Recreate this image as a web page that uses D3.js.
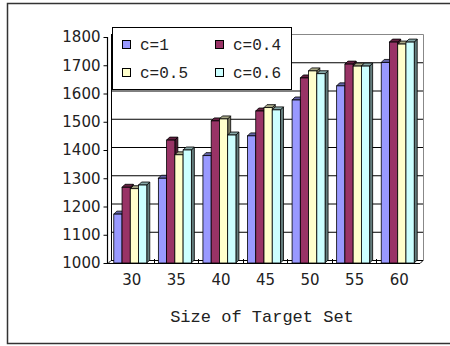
<!DOCTYPE html>
<html>
<head>
<meta charset="utf-8">
<script src="https://cdn.jsdelivr.net/npm/d3@7/dist/d3.min.js"></script>
<style>
  html, body { margin: 0; padding: 0; background: #fff; }
  svg { display: block; }
</style>
</head>
<body>
<svg id="chart" width="450" height="346"></svg>
<script>
// Target set sizes on the x axis
const categories = ["30", "35", "40", "45", "50", "55", "60"];
// Parameter settings, one series each
const seriesNames = ["c=1", "c=0.4", "c=0.5", "c=0.6"];
const seriesColors = ["#9999FF", "#993366", "#FFFFCC", "#CCFFFF"];
// Values per series, one per target set size
const valsC1  = [1173, 1300, 1380, 1450, 1577, 1627, 1710];
const valsC04 = [1268, 1435, 1503, 1538, 1655, 1704, 1782];
const valsC05 = [1263, 1383, 1510, 1550, 1680, 1697, 1775];
const valsC06 = [1276, 1400, 1453, 1542, 1670, 1697, 1782];
const seriesValues = [valsC1, valsC04, valsC05, valsC06];
const yTicks = [1000, 1100, 1200, 1300, 1400, 1500, 1600, 1700, 1800];
const xTitle = "Size of Target Set";

(function () {
const svg = d3.select("#chart");

// chart area frame
svg.append("rect")
  .attr("x", 7.5).attr("y", 3.5).attr("width", 460).attr("height", 340)
  .attr("fill", "#fff").attr("stroke", "#333").attr("stroke-width", 1.5);

const pLeft = 108, pRight = 420, pBottom = 263, pTop = 37, depth = 3;

const y = d3.scaleLinear().domain([1000, 1800]).range([pBottom, pTop]);
const x = d3.scaleBand().domain(categories).range([pLeft, pRight])
  .paddingInner(0.26).paddingOuter(0.13);
const xs = d3.scaleBand().domain(d3.range(seriesNames.length)).range([0, x.bandwidth()]);

// back wall gridlines
const g = svg.append("g");
g.selectAll("line.grid").data(yTicks.slice(1, -1)).join("line")
  .attr("x1", pLeft + depth).attr("x2", pRight + depth)
  .attr("y1", d => y(d) - depth + 0.5).attr("y2", d => y(d) - depth + 0.5)
  .attr("stroke", "#000").attr("stroke-width", 1);

// wall border (top and right), grey
g.append("path")
  .attr("d", `M${pLeft + depth + 0.5},${y(1800) - depth + 0.5} H${pRight + depth + 0.5} V${pBottom - depth + 0.5}`)
  .attr("fill", "none").attr("stroke", "#888").attr("stroke-width", 1);

// floor
g.append("path")
  .attr("d", `M${pLeft},${pBottom + 0.5} L${pLeft + depth},${pBottom - depth + 0.5} H${pRight + depth} L${pRight},${pBottom + 0.5} Z`)
  .attr("fill", "#fff").attr("stroke", "#000").attr("stroke-width", 1);

// left wall edge
g.append("line")
  .attr("x1", pLeft + depth + 0.5).attr("x2", pLeft + depth + 0.5)
  .attr("y1", y(1800) - depth).attr("y2", pBottom - depth)
  .attr("stroke", "#000").attr("stroke-width", 1);

// category ticks at group boundaries
const bounds = d3.range(1, categories.length).map(i => pLeft + i * x.step());
g.selectAll("line.ct").data(bounds).join("line")
  .attr("x1", d => Math.round(d) + 1.5).attr("x2", d => Math.round(d) + 1.5)
  .attr("y1", pBottom - 4).attr("y2", pBottom)
  .attr("stroke", "#000").attr("stroke-width", 1);

// bars with a shallow 3-D side and top
const bars = svg.append("g");
categories.forEach((cat, ci) => {
  seriesValues.forEach((vals, si) => {
    const v = vals[ci];
    const x0 = x(cat) + xs(si), w = xs.bandwidth();
    const yv = y(v), y0 = y(1000);
    const base = d3.color(seriesColors[si]);
    bars.append("path")
      .attr("d", `M${x0 + w},${yv} L${x0 + w + depth},${yv - depth} L${x0 + w + depth},${y0 - depth} L${x0 + w},${y0} Z`)
      .attr("fill", base.darker(2).formatHex()).attr("stroke", "#000").attr("stroke-width", 0.8);
    bars.append("path")
      .attr("d", `M${x0},${yv} L${x0 + depth},${yv - depth} L${x0 + w + depth},${yv - depth} L${x0 + w},${yv} Z`)
      .attr("fill", base.darker(1.2).formatHex()).attr("stroke", "#000").attr("stroke-width", 0.8);
    bars.append("rect")
      .attr("x", x0).attr("y", yv).attr("width", w).attr("height", y0 - yv)
      .attr("fill", seriesColors[si]).attr("stroke", "#000").attr("stroke-width", 0.8);
  });
});

// front axes
svg.append("line")
  .attr("x1", pLeft - 0.5).attr("x2", pLeft - 0.5).attr("y1", pTop).attr("y2", pBottom + 1)
  .attr("stroke", "#000").attr("stroke-width", 1.2);
svg.append("line")
  .attr("x1", pLeft - 0.5).attr("x2", pRight).attr("y1", pBottom + 0.5).attr("y2", pBottom + 0.5)
  .attr("stroke", "#000").attr("stroke-width", 1.2);

// y axis ticks and labels
const yAxis = d3.axisLeft(y).tickValues(yTicks).tickFormat(d3.format("d")).tickSize(4).tickPadding(3);
const ya = svg.append("g").attr("transform", `translate(${pLeft - 0.5},0)`).call(yAxis);
ya.select(".domain").remove();
ya.selectAll("text").attr("font-family", "DejaVu Sans").attr("font-size", 15).attr("fill", "#222");

// x axis labels
const xAxis = d3.axisBottom(x).tickSize(0).tickPadding(11);
const xa = svg.append("g").attr("transform", `translate(1.5,${pBottom})`).call(xAxis);
xa.select(".domain").remove();
xa.selectAll("text").attr("font-family", "DejaVu Sans").attr("font-size", 15).attr("fill", "#222");

// axis title
svg.append("text")
  .attr("x", 262).attr("y", 322).attr("text-anchor", "middle")
  .attr("font-family", "Liberation Mono").attr("font-size", 17).attr("fill", "#222")
  .text(xTitle);

// legend
const lg = svg.append("g");
lg.append("rect").attr("x", 112.5).attr("y", 27.5).attr("width", 179).attr("height", 62)
  .attr("fill", "#fff").attr("stroke", "#000").attr("stroke-width", 1);
const legPos = [[122, 45], [215, 45], [122, 73], [215, 73]];
seriesNames.forEach((name, i) => {
  const [lx, ly] = legPos[i];
  lg.append("rect").attr("x", lx + 0.5).attr("y", ly - 4.5).attr("width", 8).attr("height", 8)
    .attr("fill", seriesColors[i]).attr("stroke", "#000").attr("stroke-width", 1);
  lg.append("text").attr("x", lx + 18).attr("y", ly + 5)
    .attr("font-family", "Liberation Mono").attr("font-size", 16).attr("fill", "#222")
    .text(name);
});
})();
</script>
</body>
</html>
